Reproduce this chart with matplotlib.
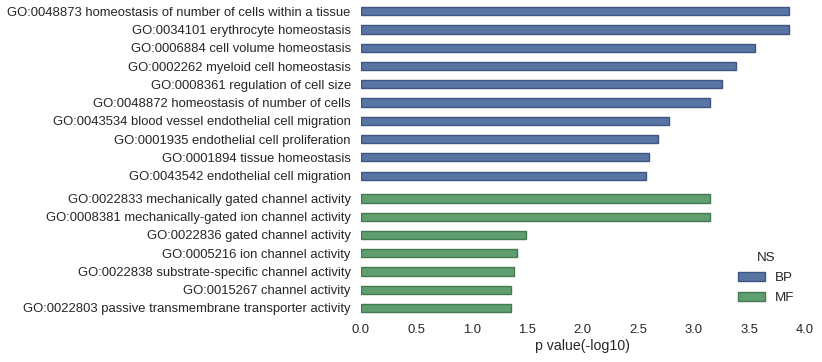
import matplotlib
matplotlib.use("Agg")
import matplotlib.pyplot as plt
import seaborn as sns
from matplotlib.patches import Patch

# BP terms, top to bottom
BP_TERMS = [
    "GO:0048873 homeostasis of number of cells within a tissue",
    "GO:0034101 erythrocyte homeostasis",
    "GO:0006884 cell volume homeostasis",
    "GO:0002262 myeloid cell homeostasis",
    "GO:0008361 regulation of cell size",
    "GO:0048872 homeostasis of number of cells",
    "GO:0043534 blood vessel endothelial cell migration",
    "GO:0001935 endothelial cell proliferation",
    "GO:0001894 tissue homeostasis",
    "GO:0043542 endothelial cell migration",
]
BP_VALUES = [3.86, 3.86, 3.55, 3.38, 3.25, 3.15, 2.78, 2.68, 2.60, 2.57]

# MF terms, top to bottom
MF_TERMS = [
    "GO:0022833 mechanically gated channel activity",
    "GO:0008381 mechanically-gated ion channel activity",
    "GO:0022836 gated channel activity",
    "GO:0005216 ion channel activity",
    "GO:0022838 substrate-specific channel activity",
    "GO:0015267 channel activity",
    "GO:0022803 passive transmembrane transporter activity",
]
MF_VALUES = [3.15, 3.15, 1.49, 1.41, 1.38, 1.355, 1.355]

XTICKS = [0.0, 0.5, 1.0, 1.5, 2.0, 2.5, 3.0, 3.5, 4.0]

sns.set_style("white")
plt.rcParams["font.family"] = ["Liberation Sans", "DejaVu Sans"]
plt.rcParams["text.color"] = "#262626"
plt.rcParams["xtick.color"] = "#262626"
plt.rcParams["ytick.color"] = "#262626"

C_BP, E_BP = "#5875a4", "#3d5580"
C_MF, E_MF = "#5f9e6e", "#437a50"
GAP = 0.25

fig = plt.figure(figsize=(8.22, 3.62), dpi=100)
ax = fig.add_axes([0.4386, 0.124, 0.5405, 0.870])

bp_pos = list(range(len(BP_TERMS)))
mf_pos = [len(BP_TERMS) + GAP + i for i in range(len(MF_TERMS))]

ax.barh(bp_pos, BP_VALUES, height=0.45, color=C_BP, edgecolor=E_BP, linewidth=1)
ax.barh(mf_pos, MF_VALUES, height=0.45, color=C_MF, edgecolor=E_MF, linewidth=1)

ax.set_yticks(bp_pos + mf_pos)
ax.set_yticklabels(BP_TERMS + MF_TERMS, fontsize=9.4)
ax.set_ylim(mf_pos[-1] + 0.5, -0.5)
ax.set_xlim(0, 4.0)
ax.set_xticks(XTICKS)
ax.set_xticklabels([f"{t:.1f}" for t in XTICKS], fontsize=9.4)
ax.set_xlabel("p value(-log10)", fontsize=10.2, labelpad=2)
ax.tick_params(axis="y", length=0, pad=7)
ax.tick_params(axis="x", length=0, pad=5)
sns.despine(ax=ax, left=True, bottom=True)

handles = [Patch(facecolor=C_BP, edgecolor=E_BP, label="BP"),
           Patch(facecolor=C_MF, edgecolor=E_MF, label="MF")]
ax.legend(handles=handles, title="NS", frameon=False, loc="lower right",
          bbox_to_anchor=(1.004, 0.003), fontsize=9.6, title_fontsize=9.6,
          handlelength=2.0, handleheight=0.7, labelspacing=0.6)

fig.savefig("out.png", dpi=100, facecolor="white")
